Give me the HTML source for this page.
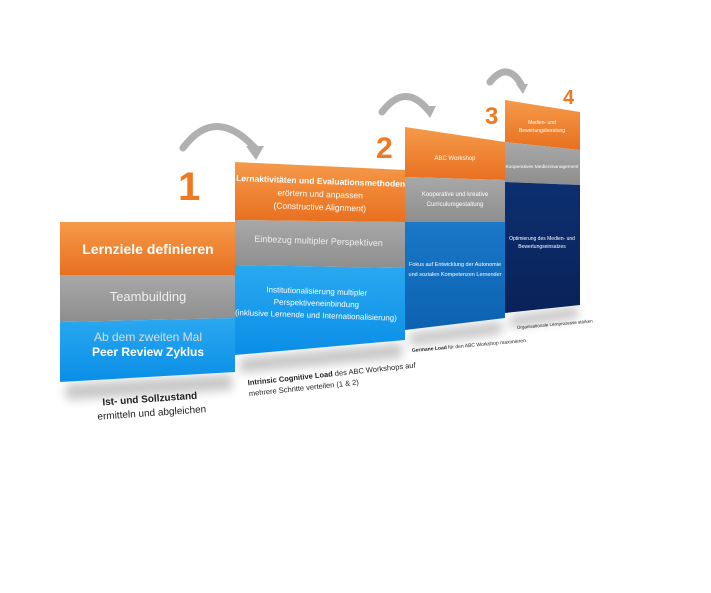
<!DOCTYPE html>
<html><head><meta charset="utf-8"><style>
body{margin:0;background:#fff;}
svg{display:block;font-family:"Liberation Sans",sans-serif;}
</style></head><body>
<svg width="711" height="593" viewBox="0 0 711 593" xmlns="http://www.w3.org/2000/svg">
<defs>
<linearGradient id="or" x1="0" y1="0" x2="0" y2="1"><stop offset="0" stop-color="#f59a4a"/><stop offset="1" stop-color="#e8701f"/></linearGradient>
<linearGradient id="gr" x1="0" y1="0" x2="0" y2="1"><stop offset="0" stop-color="#a8a8a8"/><stop offset="1" stop-color="#8e8e8e"/></linearGradient>
<linearGradient id="bl" x1="0" y1="0" x2="0" y2="1"><stop offset="0" stop-color="#2aa8f0"/><stop offset="1" stop-color="#0a8ee6"/></linearGradient>
<linearGradient id="bl3" x1="0" y1="0" x2="0" y2="1"><stop offset="0" stop-color="#1a78c8"/><stop offset="1" stop-color="#0c62b0"/></linearGradient>
<linearGradient id="nv" x1="0" y1="0" x2="0" y2="1"><stop offset="0" stop-color="#0c2f70"/><stop offset="1" stop-color="#0a2258"/></linearGradient>
<filter id="sh" x="-20%" y="-50%" width="140%" height="200%"><feGaussianBlur stdDeviation="5"/></filter>
</defs>
<g fill="#000" opacity="0.22" filter="url(#sh)">
<polygon points="66,384 232,374 232,390 66,400"/>
<polygon points="240,358 402,343 402,358 240,373"/>
<polygon points="410,333 502,321 502,334 410,346"/>
<polygon points="510,316 578,306 578,318 510,328"/>
</g>
<polygon points="60,222 235,222 235,275 60,275" fill="url(#or)"/>
<polygon points="60,275 235,275 235,318 60,322" fill="url(#gr)"/>
<polygon points="60,322 235,318 235,372 60,382" fill="url(#bl)"/>
<polygon points="235,162 405,170 405,222 235,220" fill="url(#or)"/>
<polygon points="235,220 405,222 405,268 235,265" fill="url(#gr)"/>
<polygon points="235,265 405,268 405,340 235,355" fill="url(#bl)"/>
<polygon points="405,127 505,142 505,180 405,177" fill="url(#or)"/>
<polygon points="405,177 505,180 505,222 405,222" fill="url(#gr)"/>
<polygon points="405,222 505,222 505,318 405,330" fill="url(#bl3)"/>
<polygon points="505,100 580,112 580,150 505,142" fill="url(#or)"/>
<polygon points="505,142 580,150 580,185 505,182" fill="url(#gr)"/>
<polygon points="505,182 580,185 580,305 505,313" fill="url(#nv)"/>
<g fill="none" stroke="#b0b0b0" stroke-width="7" stroke-linecap="round">
<path d="M183,148 Q215,105 255,148"/>
<path d="M382,112 Q405,82 428,110"/>
<path d="M490,82 Q508,60 522,86"/>
</g>
<g fill="#b0b0b0">
<polygon points="246,146 264,146 256,160"/>
<polygon points="421,106 436,106 430,118"/>
<polygon points="516,84 528,84 523,94"/>
</g>
<g fill="#f07820" font-weight="bold">
<text x="178" y="200" font-size="40">1</text>
<text x="376" y="158" font-size="30">2</text>
<text x="485" y="124" font-size="24">3</text>
<text x="563" y="104" font-size="20">4</text>
</g>
<g fill="#fff" text-anchor="middle">
<text x="148" y="254" font-size="14" font-weight="bold">Lernziele definieren</text>
<text x="148" y="301" font-size="13" fill="#eee">Teambuilding</text>
<text x="148" y="341" font-size="12" fill="#ddd">Ab dem zweiten Mal</text>
<text x="148" y="356" font-size="12" font-weight="bold">Peer Review Zyklus</text>
</g>
<g fill="#fff" text-anchor="middle" transform="rotate(2 320 200)">
<text x="320" y="184" font-size="8.5" font-weight="bold">Lernaktivitäten und Evaluationsmethoden</text>
<text x="320" y="197" font-size="8.5">erörtern und anpassen</text>
<text x="320" y="210" font-size="8.5">(Constructive Alignment)</text>
<text x="320" y="244" font-size="9" fill="#eee">Einbezug multipler Perspektiven</text>
<text x="320" y="294" font-size="8">Institutionalisierung multipler</text>
<text x="320" y="306" font-size="8">Perspektiveneinbindung</text>
<text x="320" y="318" font-size="8">(inklusive Lernende und Internationalisierung)</text>
</g>
<g fill="#fff" text-anchor="middle" font-size="6">
<text x="455" y="160">ABC Workshop</text>
<text x="455" y="196">Kooperative und kreative</text>
<text x="455" y="206">Curriculumgestaltung</text>
<text x="455" y="266" font-size="5.5">Fokus auf Entwicklung der Autonomie</text>
<text x="455" y="276" font-size="5.5">und sozialen Kompetenzen Lernender</text>
<text x="542" y="124" font-size="5">Medien- und</text>
<text x="542" y="132" font-size="5">Bewertungsberatung</text>
<text x="542" y="168" font-size="4.8">Kooperatives Medienmanagement</text>
<text x="542" y="240" font-size="5">Optimierung des Medien- und</text>
<text x="542" y="248" font-size="5">Bewertungseinsatzes</text>
</g>
<g fill="#222" text-anchor="middle">
<text x="150" y="402" font-size="10" font-weight="bold" transform="rotate(-4 150 402)">Ist- und Sollzustand</text>
<text x="152" y="416" font-size="10" transform="rotate(-4 152 416)">ermitteln und abgleichen</text>
</g>
<g fill="#222" font-size="7.5" transform="rotate(-6 250 385)">
<text x="248" y="385"><tspan font-weight="bold">Intrinsic Cognitive Load</tspan> des ABC Workshops auf</text>
<text x="248" y="396">mehrere Schritte verteilen (1 &amp; 2)</text>
</g>
<text x="412" y="352" font-size="5" fill="#222" transform="rotate(-5 412 352)"><tspan font-weight="bold">Germane Load</tspan> für den ABC Workshop maximieren</text>
<text x="517" y="329" font-size="4.5" fill="#222" transform="rotate(-5 517 329)">Organisationale Lernprozesse stärken</text>
</svg>
</body></html>
